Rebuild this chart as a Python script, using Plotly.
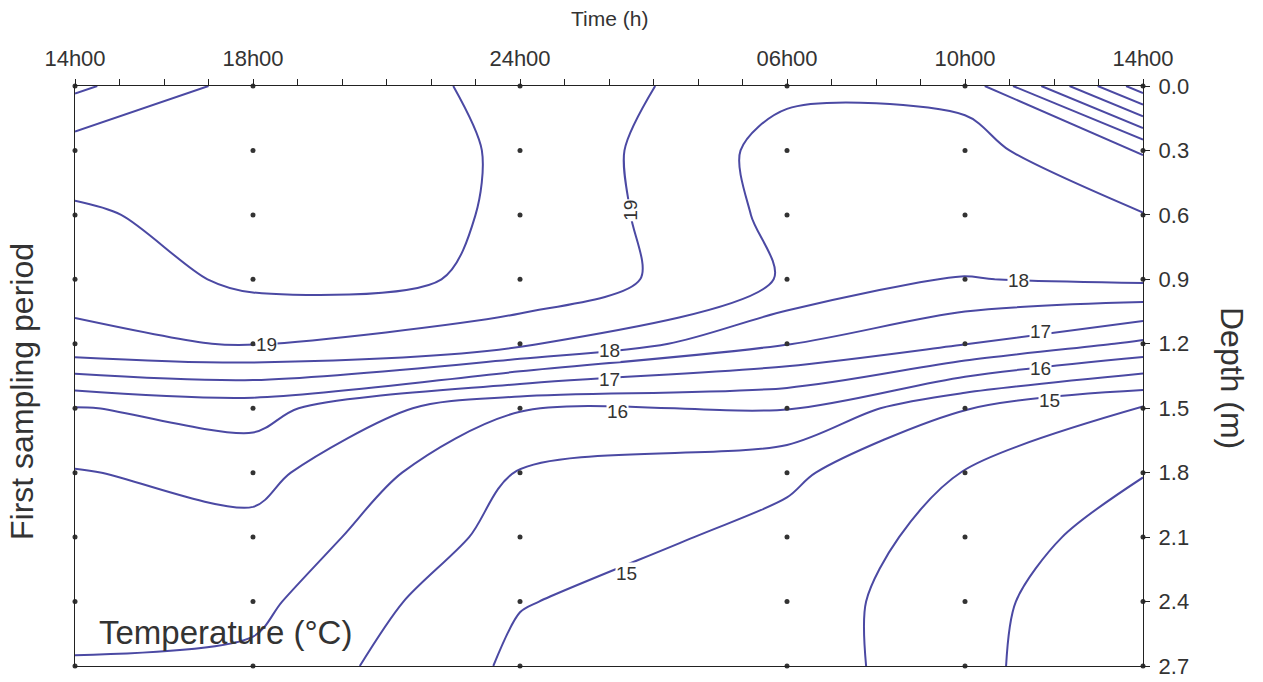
import numpy as np
import plotly.graph_objects as go

# Sampling times, in hours after the start of the first sampling period (14h00)
time_hours = [0, 4, 10, 16, 20, 24]
time_labels = ["14h00", "18h00", "24h00", "06h00", "10h00", "14h00"]

# Sampling depths (m)
depth_m = [0.0, 0.3, 0.6, 0.9, 1.2, 1.5, 1.8, 2.1, 2.4, 2.7]

# Temperature profiles (deg C) at each sampling time, surface to bottom
temp_14h00_day1 = [20.6, 19.75, 19.43, 19.15, 18.9, 16.97, 16.47, 16.3, 16.15, 15.97]
temp_18h00 = [19.8, 19.8, 19.7, 19.62, 19.03, 17.2, 16.67, 16.35, 16.12, 15.9]
temp_24h00 = [19.4, 19.45, 19.46, 19.45, 18.6, 16.03, 15.47, 15.3, 15.02, 14.9]
temp_06h00 = [18.61, 18.3, 18.35, 18.45, 17.52, 16.03, 15.1, 14.84, 14.74, 14.78]
temp_10h00 = [18.65, 18.32, 18.2, 17.98, 17.02, 15.02, 14.48, 14.3, 14.2, 14.15]
temp_14h00_day2 = [21.8, 19.04, 18.48, 18.1, 16.4, 14.45, 14.02, 13.75, 13.5, 13.5]

profiles = [temp_14h00_day1, temp_18h00, temp_24h00, temp_06h00, temp_10h00, temp_14h00_day2]
# rows = depth, columns = time
z = np.array(profiles).T

LINE_COLOR = "#4b49a3"
TEXT_COLOR = "#333333"
FONT = "Liberation Sans, Arial, sans-serif"


def depth_of_level(level, t, dmin, dmax):
    """Depth where the interpolated profile at time t crosses a level."""
    prof = [np.interp(t, time_hours, row) for row in z]
    for k in range(len(depth_m) - 1):
        a, b = prof[k], prof[k + 1]
        if depth_m[k] < dmin - 1e-9 or depth_m[k + 1] > dmax + 1e-9:
            continue
        if (a - level) * (b - level) <= 0 and a != b:
            return depth_m[k] + (level - a) / (b - a) * (depth_m[k + 1] - depth_m[k])
    return None


def time_of_level(level, d, tmin, tmax):
    """Time where the interpolated row at depth d crosses a level."""
    row = [np.interp(d, depth_m, col) for col in profiles]
    for k in range(len(time_hours) - 1):
        a, b = row[k], row[k + 1]
        if time_hours[k] < tmin - 1e-9 or time_hours[k + 1] > tmax + 1e-9:
            continue
        if (a - level) * (b - level) <= 0 and a != b:
            return time_hours[k] + (level - a) / (b - a) * (time_hours[k + 1] - time_hours[k])
    return None


fig = go.Figure()

fig.add_trace(go.Contour(
    x=time_hours, y=depth_m, z=z,
    contours=dict(coloring="lines", start=14, end=21.5, size=0.5),
    colorscale=[[0, LINE_COLOR], [1, LINE_COLOR]],
    showscale=False,
    line=dict(width=2, smoothing=0.85),
    hoverinfo="skip",
))

# sampling points
px, py = [], []
for t in time_hours:
    for d in depth_m:
        px.append(t)
        py.append(d)
fig.add_trace(go.Scatter(
    x=px, y=py, mode="markers",
    marker=dict(size=5, color="#333333"),
    cliponaxis=False, hoverinfo="skip",
))

annotations = []

# contour labels placed on the lines
label_specs = [
    # level, time (h), depth search range
    (19, 4.3, 0.9, 1.5),
    (18, 12.0, 0.9, 1.5),
    (17, 12.0, 0.9, 1.5),
    (16, 12.2, 1.2, 1.8),
    (15, 12.4, 1.8, 2.7),
    (18, 21.2, 0.6, 1.2),
    (17, 21.7, 0.9, 1.5),
    (16, 21.7, 0.9, 1.5),
    (15, 21.9, 1.2, 1.8),
]
for level, t, dmin, dmax in label_specs:
    d = depth_of_level(level, t, dmin, dmax)
    if d is None:
        continue
    annotations.append(dict(
        x=t, y=d, xref="x", yref="y", text=str(level), showarrow=False,
        font=dict(size=19, color=TEXT_COLOR, family=FONT),
        bgcolor="white", borderpad=0,
    ))

t19 = time_of_level(19, 0.58, 10, 16)
if t19 is not None:
    annotations.append(dict(
        x=t19, y=0.58, xref="x", yref="y", text="19", showarrow=False,
        textangle=-90, font=dict(size=19, color=TEXT_COLOR, family=FONT),
        bgcolor="white", borderpad=0,
    ))

annotations += [
    dict(x=0.5, y=1.0, xref="paper", yref="paper", yshift=68, text="Time (h)",
         xanchor="center", yanchor="middle",
         showarrow=False, font=dict(size=21, color=TEXT_COLOR, family=FONT)),
    dict(x=1.0, y=0.5, xref="paper", yref="paper", xshift=89, yshift=-2,
         xanchor="center", yanchor="middle",
         text="Depth (m)", textangle=90, showarrow=False,
         font=dict(size=32, color=TEXT_COLOR, family=FONT)),
    dict(x=0.0, y=0.5, xref="paper", yref="paper", xshift=-53, yshift=-16,
         xanchor="center", yanchor="middle",
         text="First sampling period", textangle=-90, showarrow=False,
         font=dict(size=32, color=TEXT_COLOR, family=FONT)),
    dict(x=0.0, y=2.545, xref="paper", yref="y", xshift=22, xanchor="left",
         yanchor="middle",
         text="Temperature (°C)", showarrow=False,
         font=dict(size=33, color=TEXT_COLOR, family=FONT)),
]

tick_vals = list(range(0, 25))
tick_text = [""] * len(tick_vals)
for t, lab in zip(time_hours, time_labels):
    tick_text[t] = lab

fig.update_layout(
    width=1263, height=682,
    margin=dict(l=75, r=120, t=86, b=16, autoexpand=False),
    paper_bgcolor="white", plot_bgcolor="white",
    showlegend=False,
    font=dict(family=FONT, color=TEXT_COLOR),
    annotations=annotations,
    xaxis=dict(
        range=[0, 24], side="top", automargin=False,
        tickvals=tick_vals, ticktext=tick_text,
        ticks="outside", ticklen=6, tickwidth=1, tickcolor="#222222",
        ticklabelstandoff=4,
        tickfont=dict(size=22, color=TEXT_COLOR, family=FONT),
        showline=True, linecolor="#222222", linewidth=1.3, mirror=True,
        showgrid=False, zeroline=False,
    ),
    yaxis=dict(
        range=[2.7, 0], side="right", automargin=False,
        tickvals=depth_m, ticktext=[f"{d:.1f}" for d in depth_m],
        ticks="outside", ticklen=6, tickwidth=1, tickcolor="#222222",
        ticklabelstandoff=4,
        tickfont=dict(size=22, color=TEXT_COLOR, family=FONT),
        showline=True, linecolor="#222222", linewidth=1.3, mirror=True,
        showgrid=False, zeroline=False,
    ),
)

fig.write_html("out.html")
